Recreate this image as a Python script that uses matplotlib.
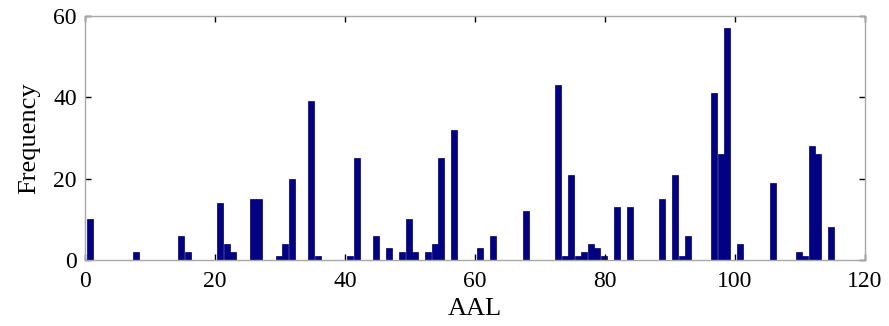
import matplotlib
matplotlib.use("Agg")
import matplotlib.pyplot as plt

# AAL region index and frequency
aal = [1, 8, 15, 16, 21, 22, 23, 26, 27, 30, 31, 32, 35, 36, 41, 42, 45, 47, 49, 50,
       51, 53, 54, 55, 57, 61, 63, 68, 73, 74, 75, 76, 77, 78, 79, 80, 82, 84, 89, 91,
       92, 93, 97, 98, 99, 101, 106, 110, 111, 112, 113, 115]
freq = [10, 2, 6, 2, 14, 4, 2, 15, 15, 1, 4, 20, 39, 1, 1, 25, 6, 3, 2, 10,
        2, 2, 4, 25, 32, 3, 6, 12, 43, 1, 21, 1, 2, 4, 3, 1, 13, 13, 15, 21,
        1, 6, 41, 26, 57, 4, 19, 2, 1, 28, 26, 8]
xticks = [0, 20, 40, 60, 80, 100, 120]
yticks = [0, 20, 40, 60]

plt.rcParams['font.family'] = ['Liberation Serif', 'DejaVu Serif']

fig = plt.figure(figsize=(8.89, 3.26), dpi=100)
ax = fig.add_axes([85/889, 1 - 260/326, (865 - 85)/889, (260 - 16)/326])

ax.bar([a - 0.2 for a in aal], freq, width=0.9, color='#000088', edgecolor='#000066',
       linewidth=0.5)

ax.set_xlim(0, 120)
ax.set_ylim(0, 60)
ax.set_xticks(xticks)
ax.set_yticks(yticks)
ax.tick_params(direction='in', length=4, width=1, color='black', labelsize=17,
               top=True, right=True)
ax.tick_params(axis='x', pad=8)
ax.tick_params(axis='y', pad=6)
for s in ax.spines.values():
    s.set_color('#a8a8a8')
    s.set_linewidth(1)

ax.set_xlabel('AAL', fontsize=19, labelpad=4)
ax.set_ylabel('Frequency', fontsize=19, labelpad=9)

fig.savefig('out.png', dpi=100)
